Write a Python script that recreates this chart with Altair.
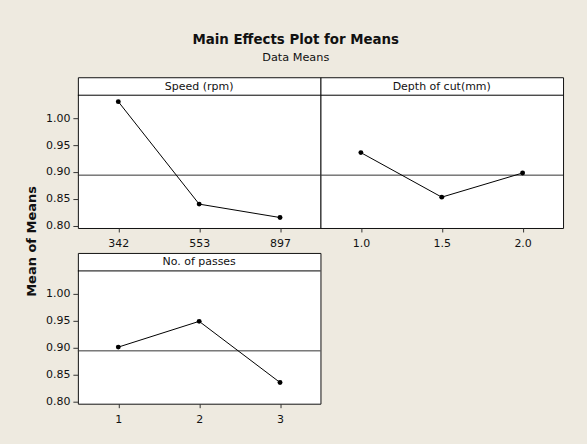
import altair as alt
import pandas as pd

# Level means for each factor
speed_levels = ["342", "553", "897"]
speed_means = [1.031, 0.840, 0.815]

depth_levels = ["1.0", "1.5", "2.0"]
depth_means = [0.936, 0.853, 0.898]

passes_levels = ["1", "2", "3"]
passes_means = [0.901, 0.949, 0.835]

grand_mean = 0.894

factor_names = ["Speed (rpm)", "Depth of cut(mm)", "No. of passes"]

y_ticks = [0.80, 0.85, 0.90, 0.95, 1.00]
y_domain = [0.7955, 1.043]

FONT = "DejaVu Sans"
PANEL_W = 243
PLOT_H = 133
STRIP_H = 18
PANEL_H = STRIP_H + PLOT_H
BG = "#EEEAE0"
INK = "#111111"


def panel(name, levels, means, y_axis, y_title=False):
    """One factor panel: boxed header strip on top, mean line below."""
    df = pd.DataFrame({"level": levels, "mean": means})
    # the data occupies the area under the header strip
    yscale = alt.Scale(domain=y_domain, nice=False, zero=False, range=[PANEL_H, STRIP_H])
    x = alt.X(
        "level:O", sort=levels,
        scale=alt.Scale(type="point", padding=0.5),
        axis=alt.Axis(title=None, labelAngle=0, domain=False, ticks=True, tickSize=4,
                      tickColor="#333333", labelPadding=6, labelFont=FONT,
                      labelFontSize=11, labelColor=INK, grid=False),
    )
    if y_axis:
        axis_kw = dict(values=y_ticks, format=".2f", domain=False, tickSize=5,
                       tickColor="#333333", labelPadding=3, labelFont=FONT,
                       labelFontSize=11, labelColor=INK, grid=False)
        if y_title:
            axis_kw.update(title="Mean of Means", titleFont=FONT, titleFontSize=13,
                           titleFontWeight="bold", titleColor=INK, titleAngle=270,
                           titleAlign="center", titleBaseline="middle",
                           titleX=-46, titleY=164)
        else:
            axis_kw.update(title=None)
        yaxis = alt.Axis(**axis_kw)
    else:
        yaxis = None
    y = alt.Y("mean:Q", scale=yscale, axis=yaxis)

    header_rule = (
        alt.Chart(pd.DataFrame({"factor": [name]}))
        .mark_rule(color="#000000", strokeWidth=1)
        .encode(x=alt.value(0), x2=alt.value(PANEL_W), y=alt.value(STRIP_H))
    )
    header_text = (
        alt.Chart(pd.DataFrame({"factor": [name]}))
        .mark_text(font=FONT, fontSize=11, color=INK)
        .encode(text="factor:N", x=alt.value(PANEL_W / 2), y=alt.value(STRIP_H / 2 + 0.5))
    )
    ref = (
        alt.Chart(pd.DataFrame({"mean": [grand_mean]}))
        .mark_rule(color="#333333", strokeWidth=1)
        .encode(y=alt.Y("mean:Q", scale=yscale, axis=yaxis))
    )
    line = alt.Chart(df).mark_line(color="black", strokeWidth=1).encode(x=x, y=y)
    pts = alt.Chart(df).mark_circle(color="black", size=24, opacity=1).encode(x=x, y=y)
    return alt.layer(ref, line, pts, header_rule, header_text).properties(
        width=PANEL_W, height=PANEL_H,
        view=alt.ViewBackground(fill="white", stroke="#111111", strokeWidth=1),
    )


p_speed = panel(factor_names[0], speed_levels, speed_means, True, True)
p_depth = panel(factor_names[1], depth_levels, depth_means, False)
p_passes = panel(factor_names[2], passes_levels, passes_means, True)

chart = (
    alt.concat(p_speed, p_depth, p_passes, columns=2,
               spacing=alt.RowColnumber(row=25, column=0), bounds="flush")
    .properties(
        title=alt.TitleParams(
            "Main Effects Plot for Means",
            subtitle="Data Means",
            font=FONT, fontSize=13.4, fontWeight="bold", color=INK,
            subtitleFont=FONT, subtitleFontSize=11.3, subtitleColor=INK,
            anchor="middle", offset=13, subtitlePadding=6, dx=1,
        ),
        padding={"left": 25, "top": 32, "right": 23, "bottom": 19},
    )
    .configure(background=BG)
)

chart.save("out.html", embed_options={"renderer": "svg", "actions": False})
